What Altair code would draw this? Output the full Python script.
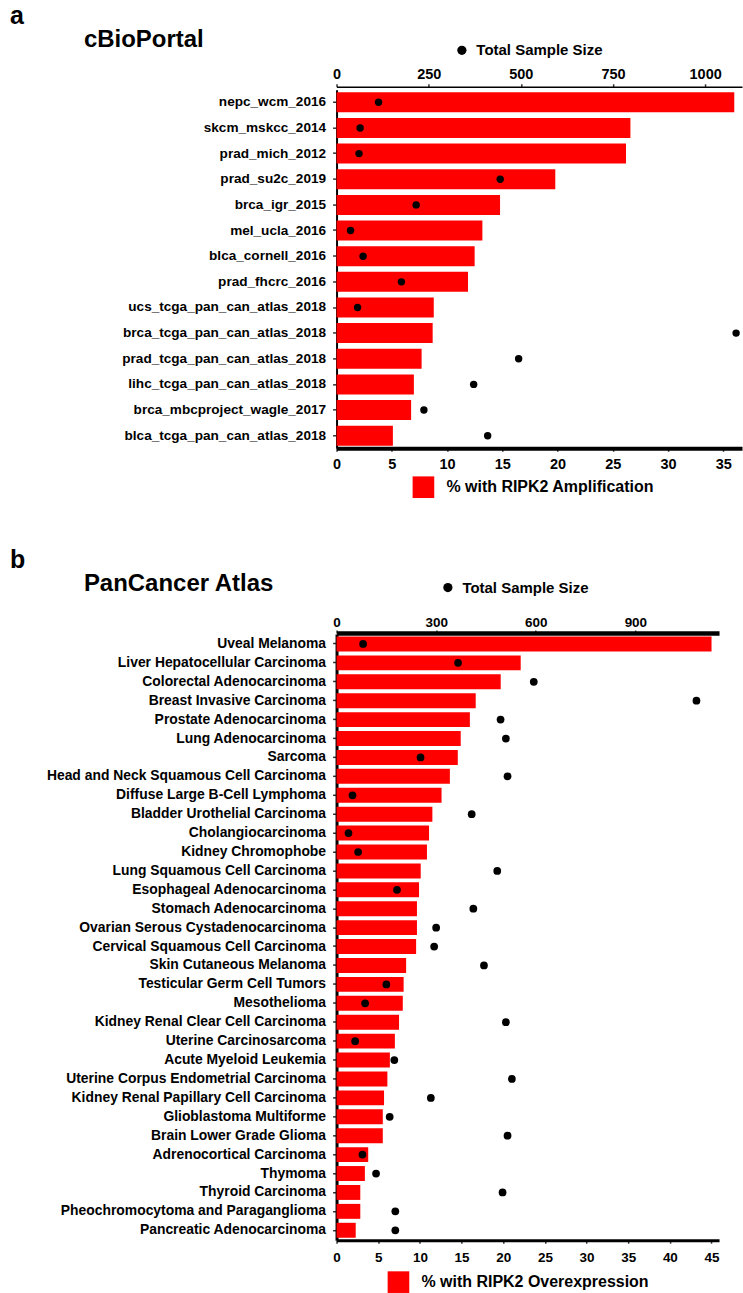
import altair as alt
import pandas as pd

FONT = "Liberation Sans"
RED = "#ff0000"

# ---- panel a: cBioPortal studies ----
cbio_studies = [
    "nepc_wcm_2016", "skcm_mskcc_2014", "prad_mich_2012", "prad_su2c_2019",
    "brca_igr_2015", "mel_ucla_2016", "blca_cornell_2016", "prad_fhcrc_2016",
    "ucs_tcga_pan_can_atlas_2018", "brca_tcga_pan_can_atlas_2018",
    "prad_tcga_pan_can_atlas_2018", "lihc_tcga_pan_can_atlas_2018",
    "brca_mbcproject_wagle_2017", "blca_tcga_pan_can_atlas_2018",
]
cbio_amp_pct = [36.0, 26.6, 26.2, 19.8, 14.8, 13.2, 12.5, 11.9, 8.8, 8.7, 7.7, 7.0, 6.75, 5.1]
cbio_samples = [114, 64, 61, 444, 216, 38, 72, 176, 57, 1084, 494, 372, 237, 410]

# ---- panel b: PanCancer Atlas tumour types ----
pan_types = [
    "Uveal Melanoma", "Liver Hepatocellular Carcinoma", "Colorectal Adenocarcinoma",
    "Breast Invasive Carcinoma", "Prostate Adenocarcinoma", "Lung Adenocarcinoma",
    "Sarcoma", "Head and Neck Squamous Cell Carcinoma", "Diffuse Large B-Cell Lymphoma",
    "Bladder Urothelial Carcinoma", "Cholangiocarcinoma", "Kidney Chromophobe",
    "Lung Squamous Cell Carcinoma", "Esophageal Adenocarcinoma", "Stomach Adenocarcinoma",
    "Ovarian Serous Cystadenocarcinoma", "Cervical Squamous Cell Carcinoma",
    "Skin Cutaneous Melanoma", "Testicular Germ Cell Tumors", "Mesothelioma",
    "Kidney Renal Clear Cell Carcinoma", "Uterine Carcinosarcoma", "Acute Myeloid Leukemia",
    "Uterine Corpus Endometrial Carcinoma", "Kidney Renal Papillary Cell Carcinoma",
    "Glioblastoma Multiforme", "Brain Lower Grade Glioma", "Adrenocortical Carcinoma",
    "Thymoma", "Thyroid Carcinoma", "Pheochromocytoma and Paraganglioma",
    "Pancreatic Adenocarcinoma",
]
pan_over_pct = [45.0, 22.1, 19.7, 16.7, 16.0, 14.9, 14.55, 13.6, 12.6, 11.5, 11.1, 10.85,
                10.1, 9.9, 9.65, 9.65, 9.55, 8.35, 8.05, 7.95, 7.5, 7.0, 6.4, 6.1, 5.7,
                5.55, 5.55, 3.8, 3.4, 2.85, 2.85, 2.3]
pan_samples = [80, 366, 594, 1084, 494, 510, 253, 515, 48, 407, 36, 65, 484, 182, 412,
               300, 294, 444, 150, 86, 510, 56, 174, 528, 284, 160, 515, 78, 119, 500,
               177, 177]


def text_layer(txt, x, y, size):
    return alt.Chart(pd.DataFrame({"t": [txt]})).mark_text(
        align="left", baseline="alphabetic", font=FONT, fontSize=size,
        fontWeight="bold", color="black",
    ).encode(text="t:N", x=alt.value(x), y=alt.value(y))


def panel(letter, heading, cats, pct, n, pct_label, pct_max, pct_ticks, n_max, n_ticks,
          width, height, pad_inner, pad_outer, axis_font, cat_font, left_w, top_w,
          bottom_w, top_offset, top_pad, bottom_pad, top_leg, bottom_leg, dot_size):
    df = pd.DataFrame({
        "cat": cats, "pct": pct, "n": n,
        "bar_key": pct_label, "dot_key": "Total Sample Size",
    })
    y_axis = alt.Axis(
        title=None, labelFont=FONT, labelFontSize=cat_font, labelFontWeight="bold",
        labelColor="black", labelLimit=400, labelPadding=7, tickSize=4,
        tickWidth=1.5, tickColor="#333333", domainColor="black", domainWidth=left_w,
        grid=False,
    )
    y_enc = alt.Y("cat:N", sort=cats, axis=y_axis,
                  scale=alt.Scale(paddingInner=pad_inner, paddingOuter=pad_outer))

    bars = alt.Chart(df).mark_bar(opacity=1).encode(
        x=alt.X("pct:Q",
                scale=alt.Scale(domain=[0, pct_max], nice=False, zero=True),
                axis=alt.Axis(orient="bottom", values=pct_ticks, title=None, format="d",
                              labelFont=FONT, labelFontSize=axis_font,
                              labelFontWeight="bold", labelColor="black",
                              labelPadding=bottom_pad, tickSize=3, tickWidth=1.5,
                              tickColor="#333333", domainColor="black",
                              domainWidth=bottom_w, grid=False, labelFlush=False)),
        y=y_enc,
        color=alt.Color("bar_key:N",
                        scale=alt.Scale(domain=[pct_label], range=[RED]),
                        legend=alt.Legend(
                            orient="none", legendX=bottom_leg[0], legendY=bottom_leg[1],
                            title=None, padding=0, symbolType="square",
                            symbolSize=470, symbolStrokeWidth=0, symbolOpacity=1,
                            labelFont=FONT, labelFontSize=16, labelFontWeight="bold",
                            labelColor="black", labelLimit=400, labelOffset=12)),
    )

    dots = alt.Chart(df).mark_point(filled=True, opacity=1, size=dot_size).encode(
        x=alt.X("n:Q",
                scale=alt.Scale(domain=[0, n_max], nice=False, zero=True),
                axis=alt.Axis(orient="top", values=n_ticks, title=None, format="d",
                              labelFont=FONT, labelFontSize=axis_font,
                              labelFontWeight="bold", labelColor="black",
                              labelPadding=top_pad, tickSize=3, tickWidth=1.5,
                              tickColor="#333333", domainColor="black",
                              domainWidth=top_w, offset=top_offset, grid=False,
                              labelFlush=False)),
        y=y_enc,
        color=alt.value("black"),
        shape=alt.Shape("dot_key:N",
                        scale=alt.Scale(domain=["Total Sample Size"], range=["circle"]),
                        legend=alt.Legend(
                            orient="none", legendX=top_leg[0], legendY=top_leg[1],
                            title=None, padding=0, symbolType="circle", symbolSize=85,
                            symbolFillColor="black", symbolStrokeColor="black",
                            symbolStrokeWidth=0, symbolOpacity=1,
                            labelFont=FONT, labelFontSize=15, labelFontWeight="bold",
                            labelColor="black", labelLimit=400, labelOffset=7)),
    )

    return alt.layer(
        bars, dots,
        text_layer(letter, -327, -66, 25),
        text_layer(heading, -253, -43, 24),
    ).resolve_scale(x="independent").properties(width=width, height=height)


panel_a = panel(
    "a", "cBioPortal", cbio_studies, cbio_amp_pct, cbio_samples,
    "% with RIPK2 Amplification", 36.7, list(range(0, 40, 5)),
    1100, [0, 250, 500, 750, 1000],
    width=406, height=359, pad_inner=0.22, pad_outer=0.1, axis_font=14.5, cat_font=13.6,
    left_w=2, top_w=1.5, bottom_w=4, top_offset=3, top_pad=2, bottom_pad=6,
    top_leg=(118, -47), bottom_leg=(76, 387), dot_size=55,
)

panel_b = panel(
    "b", "PanCancer Atlas", pan_types, pan_over_pct, pan_samples,
    "% with RIPK2 Overexpression", 45.9, list(range(0, 50, 5)),
    1152, [0, 300, 600, 900],
    width=383, height=607, pad_inner=0.21, pad_outer=0.13, axis_font=13.5, cat_font=13.9,
    left_w=3, top_w=4.5, bottom_w=3, top_offset=1, top_pad=1, bottom_pad=7,
    top_leg=(104, -54), bottom_leg=(51, 638), dot_size=60,
)

chart = alt.vconcat(panel_a, panel_b, spacing=48).resolve_scale(
    color="independent", shape="independent"
).resolve_legend(
    color="independent", shape="independent"
).properties(
    padding={"left": 9, "top": 2, "right": 0, "bottom": 0},
).configure_view(stroke="transparent")

chart.save("out.html", embed_options={"renderer": "svg", "actions": False})
